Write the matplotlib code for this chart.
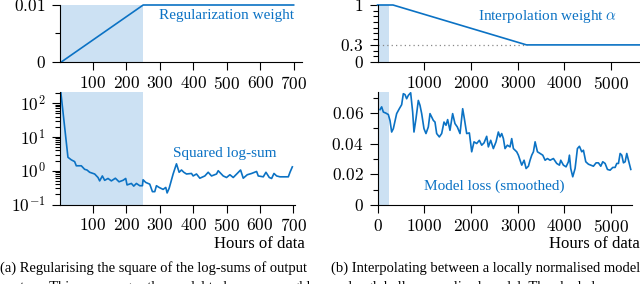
import matplotlib
matplotlib.use("Agg")
import matplotlib.pyplot as plt
from matplotlib.ticker import FixedLocator, FixedFormatter, LogLocator, NullFormatter

plt.rcParams['font.family'] = ['Liberation Serif', 'DejaVu Serif']
plt.rcParams['mathtext.fontset'] = 'cm'
plt.rcParams['font.size'] = 11
plt.rcParams['axes.linewidth'] = 0.8

############################# data ################################

reg_hours = [5, 250, 700]
reg_weight = [0, 0.01, 0.01]

logsum_hours = [2, 25, 35, 45, 50, 65, 75, 82, 90, 105, 115, 120, 128, 135, 145, 155, 167,
                178, 190, 198, 202, 215, 222, 230, 240, 248, 250, 258, 270, 278, 285, 290,
                298, 310, 318, 322, 328, 340, 350, 358, 365, 372, 380, 395, 400, 410, 420,
                435, 445, 455, 470, 475, 490, 500, 510, 520, 532, 542, 550, 562, 575, 590,
                595, 610, 618, 628, 635, 642, 650, 660, 685, 690, 697]
logsum_vals = [300, 2.5, 2.1, 1.86, 1.4, 1.4, 1.1, 1.05, 0.9, 0.8, 0.63, 0.5, 0.7, 0.52,
               0.59, 0.5, 0.6, 0.47, 0.52, 0.59, 0.38, 0.42, 0.35, 0.42, 0.36, 0.36, 0.54,
               0.45, 0.4, 0.24, 0.24, 0.36, 0.32, 0.28, 0.32, 0.22, 0.30, 0.8, 1.6, 0.9,
               1.05, 0.9, 0.8, 0.83, 0.7, 0.8, 0.6, 0.7, 0.9, 0.7, 0.8, 1.0, 0.7, 0.63,
               0.76, 0.63, 0.83, 1.05, 0.6, 0.76, 0.83, 0.95, 0.7, 0.66, 0.9, 0.63, 0.59,
               0.83, 0.7, 0.66, 0.66, 0.9, 1.3]

alpha_hours = [0, 330, 3190, 5620]
alpha_vals = [1, 1, 0.3, 0.3]

loss_hours = [51, 87, 123, 173, 230, 266, 301, 337, 408, 465, 515, 551, 587, 622, 658, 708,
              751, 779, 822, 872, 908, 944, 993, 1036, 1086, 1122, 1158, 1193, 1229, 1265,
              1322, 1372, 1422, 1465, 1500, 1550, 1607, 1657, 1707, 1765, 1822, 1858, 1908,
              1965, 2015, 2065, 2122, 2179, 2229, 2279, 2336, 2372, 2422, 2479, 2536, 2586,
              2622, 2658, 2694, 2729, 2779, 2836, 2872, 2908, 2979, 3015, 3051, 3087, 3137,
              3180, 3230, 3265, 3301, 3337, 3373, 3423, 3480, 3537, 3587, 3637, 3694, 3765,
              3836, 3894, 3922, 3979, 4036, 4086, 4108, 4136, 4179, 4229, 4279, 4322, 4372,
              4408, 4458, 4515, 4565, 4622, 4679, 4729, 4779, 4822, 4872, 4922, 4979, 5036,
              5086, 5122, 5158, 5194, 5229, 5265, 5301, 5336, 5372, 5422]
loss_vals = [0.0622, 0.064, 0.0606, 0.060, 0.059, 0.055, 0.0476, 0.0498, 0.0596, 0.0628,
             0.0654, 0.0726, 0.072, 0.0693, 0.0715, 0.0732, 0.0606, 0.0476, 0.0563, 0.0682,
             0.065, 0.0596, 0.0498, 0.0466, 0.0509, 0.0596, 0.0574, 0.0552, 0.0541, 0.0466,
             0.0444, 0.0466, 0.0541, 0.052, 0.0557, 0.0487, 0.0596, 0.0531, 0.0509, 0.0466,
             0.0628, 0.0563, 0.0466, 0.047, 0.0347, 0.0412, 0.0401, 0.0422, 0.039, 0.0405,
             0.0448, 0.0379, 0.0422, 0.0368, 0.0412, 0.0476, 0.0444, 0.0466, 0.0433, 0.0368,
             0.039, 0.0379, 0.0433, 0.0368, 0.0347, 0.0325, 0.0292, 0.026, 0.0292, 0.0238,
             0.0253, 0.0292, 0.0325, 0.0347, 0.0412, 0.0347, 0.0336, 0.0325, 0.0292, 0.0303,
             0.0292, 0.0303, 0.0271, 0.026, 0.0292, 0.026, 0.0249, 0.0282, 0.0325, 0.0238,
             0.0184, 0.0238, 0.0368, 0.0383, 0.0347, 0.0357, 0.0282, 0.0266, 0.026, 0.0253,
             0.0275, 0.0275, 0.0253, 0.0282, 0.0271, 0.0232, 0.0227, 0.0245, 0.0245, 0.0271,
             0.0271, 0.0336, 0.0325, 0.0275, 0.0282, 0.0336, 0.0292, 0.0232]

shade_end = 250

caption_a = ["(a) Regularising the square of the log-sums of output",
             "vectors. This encourages the model to become roughly"]
caption_b = ["(b) Interpolating between a locally normalised model",
             "and a globally normalised model. The shaded area"]

###################

blue = '#0b72c4'
light = '#cce1f3'
W, H = 640, 284
tick_size = 12.5


def add_ax(l, t, r, b):
    ax = fig.add_axes([l / W, 1 - b / H, (r - l) / W, (b - t) / H])
    ax.spines['top'].set_visible(False)
    ax.spines['right'].set_visible(False)
    ax.tick_params(which='major', direction='out', length=6, width=0.8, pad=4,
                   labelsize=tick_size)
    ax.tick_params(which='minor', direction='out', length=3.5, width=0.8)
    return ax


def math_labels(vals):
    return ["$%g$" % v for v in vals]


fig = plt.figure(figsize=(6.4, 2.84), dpi=100)

# (a) top: regularization weight
ax1 = add_ax(59.6, 5, 302, 62)
ax1.axvspan(0, shade_end, color=light, lw=0)
ax1.plot(reg_hours, reg_weight, color=blue, lw=1.2, clip_on=False)
ax1.set_xlim(0, 725)
ax1.set_ylim(0, 0.01)
xt = [100, 200, 300, 400, 500, 600, 700]
ax1.xaxis.set_major_locator(FixedLocator(xt))
ax1.xaxis.set_major_formatter(FixedFormatter(math_labels(xt)))
ax1.yaxis.set_major_locator(FixedLocator([0, 0.01]))
ax1.yaxis.set_major_formatter(FixedFormatter(["$0$", "$0.01$"]))
ax1.yaxis.set_minor_locator(FixedLocator([0.005]))
ax1.text(500, 0.0081, "Regularization weight", color=blue, ha='center', va='center')

# (a) bottom: squared log-sum
ax2 = add_ax(59.6, 92, 295, 204.5)
ax2.axvspan(0, shade_end, color=light, lw=0)
ax2.plot(logsum_hours, logsum_vals, color=blue, lw=1.2)
ax2.set_yscale('log')
ax2.set_xlim(0, 705)
ax2.set_ylim(0.1, 214)
ax2.xaxis.set_major_locator(FixedLocator(xt))
ax2.xaxis.set_major_formatter(FixedFormatter(math_labels(xt)))
ax2.yaxis.set_major_locator(FixedLocator([0.1, 1, 10, 100]))
ax2.yaxis.set_major_formatter(FixedFormatter(["$10^{-1}$", "$10^{0}$", "$10^{1}$", "$10^{2}$"]))
ax2.yaxis.set_minor_locator(LogLocator(base=10, subs=range(2, 10)))
ax2.yaxis.set_minor_formatter(NullFormatter())
ax2.text(495, 3.2, "Squared log-sum", color=blue, ha='center', va='center')

# (b) top: interpolation weight
ax3 = add_ax(377.6, 5, 640, 62)
ax3.axvspan(0, shade_end, color=light, lw=0)
ax3.plot([0, alpha_hours[2]], [0.3, 0.3], color='#888888', lw=0.9, ls=(0, (1, 2.5)))
ax3.plot(alpha_hours, alpha_vals, color=blue, lw=1.2, clip_on=False)
ax3.set_xlim(0, 5620)
ax3.set_ylim(0, 1)
xt_b = [1000, 2000, 3000, 4000, 5000]
ax3.xaxis.set_major_locator(FixedLocator(xt_b))
ax3.xaxis.set_major_formatter(FixedFormatter(math_labels(xt_b)))
ax3.yaxis.set_major_locator(FixedLocator([0, 0.3, 1]))
ax3.yaxis.set_major_formatter(FixedFormatter(["$0$", "$0.3$", "$1$"]))
ax3.yaxis.set_minor_locator(FixedLocator([0.1, 0.2, 0.4, 0.5, 0.6, 0.7, 0.8, 0.9]))
ax3.text(3630, 0.79, r"Interpolation weight $\alpha$", color=blue, ha='center', va='center')

# (b) bottom: model loss
ax4 = add_ax(377.6, 92, 632, 205)
ax4.axvspan(0, shade_end, color=light, lw=0)
ax4.plot(loss_hours, loss_vals, color=blue, lw=1.2)
ax4.set_xlim(0, 5448)
ax4.set_ylim(0, 0.0737)
xt_b0 = [0, 1000, 2000, 3000, 4000, 5000]
ax4.xaxis.set_major_locator(FixedLocator(xt_b0))
ax4.xaxis.set_major_formatter(FixedFormatter(math_labels(xt_b0)))
yt = [0, 0.02, 0.04, 0.06]
ax4.yaxis.set_major_locator(FixedLocator(yt))
ax4.yaxis.set_major_formatter(FixedFormatter(math_labels(yt)))
ax4.yaxis.set_minor_locator(FixedLocator([0.01, 0.03, 0.05, 0.07]))
ax4.text(2507, 0.0119, "Model loss (smoothed)", color=blue, ha='center', va='center')

# axis labels and captions
fig.text(305 / W, 1 - 244 / H, "Hours of data", ha='right', va='center', fontsize=12)
fig.text(640 / W, 1 - 244 / H, "Hours of data", ha='right', va='center', fontsize=12)
fig.text(0 / W, 1 - 268 / H, caption_a[0], ha='left', va='center', fontsize=10.5)
fig.text(0 / W, 1 - 287 / H, caption_a[1], ha='left', va='center', fontsize=10.5)
fig.text(331 / W, 1 - 268 / H, caption_b[0], ha='left', va='center', fontsize=10.5)
fig.text(331 / W, 1 - 287 / H, caption_b[1], ha='left', va='center', fontsize=10.5)

plt.savefig('out.png', dpi=100)
